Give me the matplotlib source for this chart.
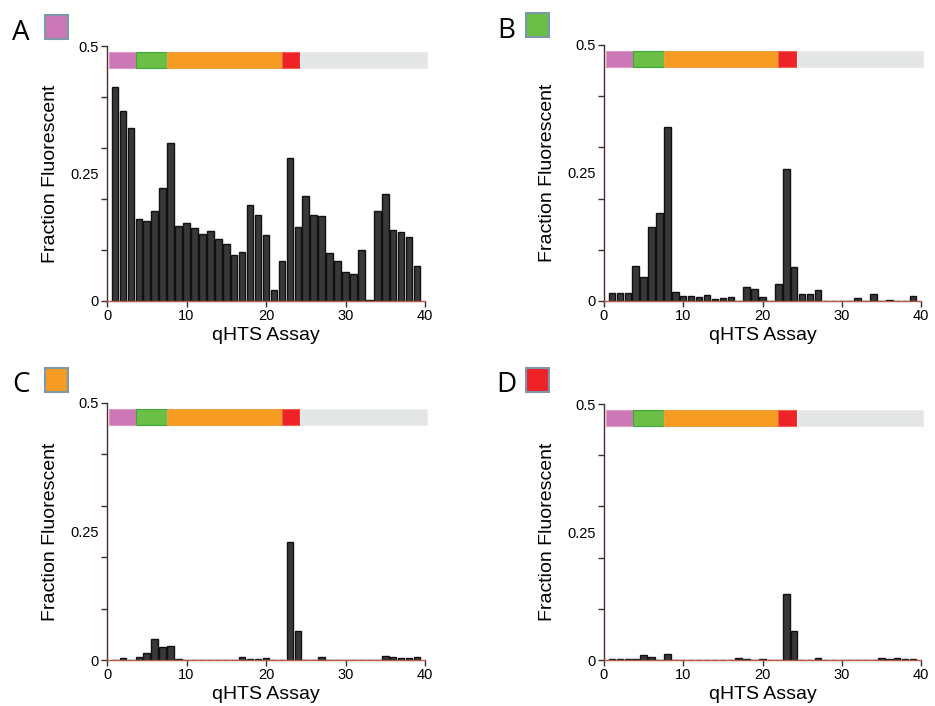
import matplotlib
matplotlib.use("Agg")
import matplotlib.pyplot as plt
from matplotlib.patches import Rectangle
import numpy as np

# ---------------- data ----------------
assays = list(range(1, 40))

frac_A = [0.420, 0.372, 0.339, 0.160, 0.156, 0.176, 0.221, 0.310, 0.148, 0.152,
          0.144, 0.132, 0.137, 0.121, 0.111, 0.090, 0.096, 0.188, 0.169, 0.130,
          0.021, 0.079, 0.281, 0.146, 0.206, 0.168, 0.166, 0.095, 0.079, 0.056,
          0.052, 0.100, 0.002, 0.176, 0.210, 0.139, 0.136, 0.126, 0.069]
frac_B = [0.015, 0.015, 0.015, 0.069, 0.046, 0.145, 0.171, 0.339, 0.018, 0.010,
          0.010, 0.007, 0.011, 0.003, 0.005, 0.007, 0.000, 0.027, 0.023, 0.008,
          0.000, 0.034, 0.257, 0.066, 0.013, 0.013, 0.021, 0.000, 0.000, 0.000,
          0.000, 0.005, 0.000, 0.014, 0.000, 0.002, 0.000, 0.000, 0.009]
frac_C = [0.000, 0.003, 0.000, 0.005, 0.014, 0.040, 0.025, 0.028, 0.001, 0.000,
          0.000, 0.000, 0.000, 0.000, 0.000, 0.000, 0.005, 0.002, 0.002, 0.003,
          0.000, 0.000, 0.230, 0.056, 0.000, 0.000, 0.005, 0.000, 0.000, 0.000,
          0.000, 0.000, 0.000, 0.000, 0.008, 0.005, 0.003, 0.003, 0.005]
frac_D = [0.001, 0.001, 0.001, 0.001, 0.009, 0.006, 0.000, 0.011, 0.000, 0.000,
          0.000, 0.000, 0.000, 0.000, 0.000, 0.000, 0.003, 0.001, 0.000, 0.002,
          0.000, 0.000, 0.129, 0.056, 0.000, 0.000, 0.004, 0.000, 0.000, 0.000,
          0.000, 0.000, 0.000, 0.000, 0.004, 0.002, 0.003, 0.001, 0.001]

panel_letters = ["A", "B", "C", "D"]
panel_series = [frac_A, frac_B, frac_C, frac_D]

# category strip along the top of each panel
strip_edges = [0.3, 3.7, 7.6, 22.0, 24.3, 40.2]
strip_colors = ["#cc78b6", "#6bbf47", "#f79c22", "#ee2328", "#e4e6e6"]
strip_edgecolors = ["#d99ac8", "#3fa63a", "#f0a040", "#f06050", "#eceeee"]
panel_icon_colors = ["#cc78b6", "#6bbf47", "#f79c22", "#ee2328"]

x_ticks = [0, 10, 20, 30, 40]
y_ticks = [0, 0.25, 0.5]
y_tick_labels = ["0", "0.25", "0.5"]
y_minor = [0.1, 0.2, 0.3, 0.4]

# ---------------- figure ----------------
W, H = 935, 706
fig = plt.figure(figsize=(W / 100, H / 100), dpi=100)
plt.rcParams['font.family'] = ['Liberation Sans', 'DejaVu Sans']

# axes placement in pixels: (left, right, top, bottom)
boxes = [(107, 425, 46, 301), (604, 921, 45, 301),
         (107, 425, 403, 660), (604, 921, 404, 660)]
letter_pos = [(21, 40), (506, 38), (21, 392), (506, 392)]
icon_pos = [(45, 15), (526, 13), (45, 368), (526, 368)]

for i in range(4):
    l, r, t, b = boxes[i]
    ax = fig.add_axes([l / W, (H - b) / H, (r - l) / W, (b - t) / H])
    ax.bar(assays, panel_series[i], width=0.82, color="#383838",
           edgecolor="#111111", linewidth=1.0)
    # top strip
    for k in range(len(strip_colors)):
        ax.add_patch(Rectangle((strip_edges[k], 0.457),
                               strip_edges[k + 1] - strip_edges[k], 0.031,
                               facecolor=strip_colors[k],
                               edgecolor=strip_edgecolors[k],
                               linewidth=0.8, clip_on=False, zorder=3))
    ax.set_xlim(0, 40)
    ax.set_ylim(0, 0.5)
    for s in ["top", "right"]:
        ax.spines[s].set_visible(False)
    ax.spines["left"].set_color("#4a2e28")
    ax.spines["bottom"].set_color("#b85a48")
    ax.spines["left"].set_linewidth(1.0)
    ax.spines["bottom"].set_linewidth(1.0)
    ax.set_xticks(x_ticks)
    ax.set_yticks(y_ticks)
    ax.set_yticklabels(y_tick_labels)
    ax.set_yticks(y_minor, minor=True)
    ax.tick_params(axis="both", which="both", direction="out", length=4,
                   width=1.0, color="#333333", labelsize=10.5, pad=2)
    ax.yaxis.get_major_ticks()[1].tick1line.set_visible(False)
    ax.set_ylabel("Fraction Fluorescent", fontsize=14)
    ax.set_xlabel("qHTS Assay", fontsize=14)
    ax.yaxis.set_label_coords(-48 / (r - l), 0.5)
    ax.xaxis.set_label_coords(0.5, -(327 - 301) / (b - t))

    lx, ly = letter_pos[i]
    fig.text(lx / W, (H - ly) / H, panel_letters[i], fontsize=20,
             family=["Open Sans", "DejaVu Sans"], ha="center", va="baseline")
    ix, iy = icon_pos[i]
    fig.add_artist(Rectangle((ix / W, (H - iy - 24) / H), 23 / W, 24 / H,
                             transform=fig.transFigure,
                             facecolor=panel_icon_colors[i],
                             edgecolor="#7d98a6", linewidth=1.5))

fig.savefig("out.png", dpi=100)
